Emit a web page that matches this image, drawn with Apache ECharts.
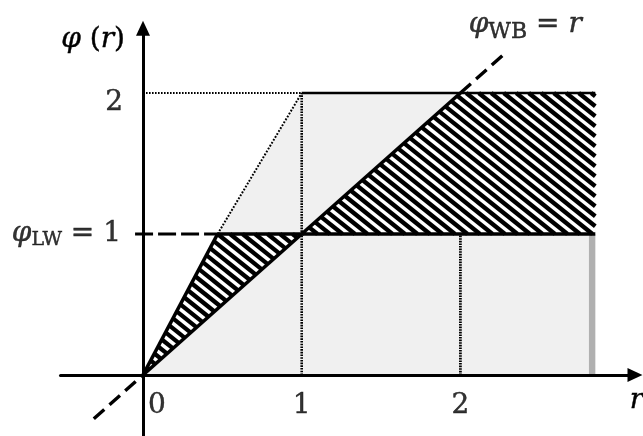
<!DOCTYPE html>
<html>
<head>
<meta charset="utf-8">
<script src="https://cdn.jsdelivr.net/npm/echarts@6/dist/echarts.min.js"></script>
<style>
  html, body { margin: 0; padding: 0; background: #fff; }
  #chart { width: 643px; height: 436px; }
</style>
</head>
<body>
<div id="chart"></div>
<script>
// ---- data (r on the horizontal axis, φ on the vertical axis) ----
const rTicks = [0, 1, 2];
const phiTicks = [1, 2];

const wbSolid    = [[0, 0], [2, 2]];            // φ_WB = r
const wbDashLow  = [[-0.31, -0.31], [0, 0]];
const wbDashHigh = [[2, 2], [2.27, 2.27]];
const steepSolid  = [[0, 0], [0.47, 1]];
const steepDotted = [[0.47, 1], [1, 2]];
const lwDashed = [[-0.05, 1], [0.47, 1]];       // φ_LW = 1
const lwSolid  = [[0.47, 1], [2.85, 1]];
const topDotted = [[0, 2], [1, 2]];
const topSolid  = [[1, 2], [2.85, 2]];
const gridR1 = [[1, 0], [1, 2]];
const gridR2 = [[2, 0], [2, 1]];

const shadedRegion = [[0, 0], [0.47, 1], [1, 2], [2.85, 2], [2.85, 0]];
const edgeBand     = [[2.81, 0], [2.85, 0], [2.85, 1], [2.81, 1]];
const hatchLeft    = [[0, 0], [0.47, 1], [1, 1]];
const hatchRight   = [[1, 1], [2, 2], [2.85, 2], [2.85, 1]];

// ---- layout ----
const UX = 158.7, UY = 141, X0 = 143, Y0 = 375;
const R_MIN = -0.52, R_MAX = 3.10, P_MIN = -0.45, P_MAX = 2.46;
const SERIF = '"DejaVu Serif", "Liberation Serif", serif';
const HATCH_DX = 12.5, HATCH_SLOPE = 0.8, HATCH_W = 4.3;

// clip the segment a-b against a convex polygon (Cyrus–Beck)
function clipToConvex(a, b, poly) {
  const cx = poly.reduce((s, p) => s + p[0], 0) / poly.length;
  const cy = poly.reduce((s, p) => s + p[1], 0) / poly.length;
  let t0 = 0, t1 = 1;
  const dx = b[0] - a[0], dy = b[1] - a[1];
  for (let i = 0; i < poly.length; i++) {
    const v = poly[i], w = poly[(i + 1) % poly.length];
    let nx = -(w[1] - v[1]), ny = w[0] - v[0];
    if (nx * (cx - v[0]) + ny * (cy - v[1]) < 0) { nx = -nx; ny = -ny; }
    const num = nx * (a[0] - v[0]) + ny * (a[1] - v[1]);
    const den = nx * dx + ny * dy;
    if (Math.abs(den) < 1e-9) { if (num < 0) return null; continue; }
    const t = -num / den;
    if (den > 0) t0 = Math.max(t0, t); else t1 = Math.min(t1, t);
    if (t0 >= t1) return null;
  }
  return [[a[0] + t0 * dx, a[1] + t0 * dy], [a[0] + t1 * dx, a[1] + t1 * dy]];
}

function polygonSeries(name, pts, fill, z) {
  return {
    name, type: 'custom', z, data: pts, encode: { x: 0, y: 1 }, silent: true,
    renderItem(params, api) {
      if (params.dataIndex !== 0) return null;
      return {
        type: 'polygon',
        shape: { points: pts.map(p => api.coord(p)) },
        style: { fill, stroke: null }
      };
    }
  };
}

// white polygon crossed by diagonal stripes running down to the right
function hatchSeries(name, pts, z) {
  return {
    name, type: 'custom', z, data: pts, encode: { x: 0, y: 1 }, silent: true,
    renderItem(params, api) {
      if (params.dataIndex !== 0) return null;
      const px = pts.map(p => api.coord(p));
      const xs = px.map(p => p[0]), ys = px.map(p => p[1]);
      const xa = Math.min(...xs) - 2, xb = Math.max(...xs) + 2;
      const ya = Math.min(...ys), yb = Math.max(...ys);
      const step = HATCH_DX * HATCH_SLOPE;
      const children = [{ type: 'polygon', shape: { points: px }, style: { fill: '#fff' } }];
      const cLo = Math.floor((ya - HATCH_SLOPE * xb) / step) - 1;
      const cHi = Math.ceil((yb - HATCH_SLOPE * xa) / step) + 1;
      for (let k = cLo; k <= cHi; k++) {
        const c = k * step;
        const seg = clipToConvex([xa, HATCH_SLOPE * xa + c], [xb, HATCH_SLOPE * xb + c], px);
        if (!seg) continue;
        children.push({
          type: 'line',
          shape: { x1: seg[0][0], y1: seg[0][1], x2: seg[1][0], y2: seg[1][1] },
          style: { stroke: '#000', lineWidth: HATCH_W, lineCap: 'butt' }
        });
      }
      return { type: 'group', children };
    }
  };
}

function lineSeries(name, pts, width, type, z) {
  return {
    name, type: 'line', z: z || 5,
    data: pts, symbol: 'none', silent: true,
    lineStyle: { color: '#000', width, type, cap: 'butt' }
  };
}

const ink = { color: '#000', textBorderColor: '#000', textBorderWidth: 0.45 };
const richText = {
  it:   Object.assign({ fontFamily: SERIF, fontStyle: 'italic', fontSize: 28 }, ink),
  rm:   Object.assign({ fontFamily: SERIF, fontSize: 28 }, ink),
  sub:  Object.assign({ fontFamily: SERIF, fontSize: 19, padding: [13, 0, 0, 0] }, ink),
  subB: Object.assign({ fontFamily: SERIF, fontSize: 22, padding: [14, 0, 0, 0] }, ink)
};

// tick labels anchored on the axes
const rLabelData = rTicks.map(v => ({
  value: [v, 0],
  label: v === 0 ? { offset: [14, 0] } : undefined
}));
const phiLabelData = phiTicks.map(v => ({
  value: [0, v],
  label: v === 2 ? { offset: [0, 10], distance: 20 } : undefined
}));

const chart = echarts.init(document.getElementById('chart'), null, { renderer: 'canvas' });
chart.setOption({
  animation: false,
  backgroundColor: '#fff',
  grid: {
    left: X0 + R_MIN * UX,
    top: Y0 - P_MAX * UY,
    width: (R_MAX - R_MIN) * UX,
    height: (P_MAX - P_MIN) * UY,
    containLabel: false,
    outerBoundsMode: 'none'
  },
  xAxis: {
    type: 'value', min: R_MIN, max: R_MAX, z: 10,
    axisLine: { onZero: true, symbol: ['none', 'triangle'], symbolSize: [14, 15],
                lineStyle: { color: '#000', width: 3 } },
    axisTick: { show: false },
    splitLine: { show: false },
    axisLabel: { show: false },
    name: '{it|r}', nameLocation: 'end', nameGap: 1.5,
    nameTextStyle: { align: 'center', verticalAlign: 'top', padding: [12, 0, 0, 0], rich: richText }
  },
  yAxis: {
    type: 'value', min: P_MIN, max: P_MAX, z: 10,
    axisLine: { onZero: true, symbol: ['none', 'triangle'], symbolSize: [14, 15],
                lineStyle: { color: '#000', width: 3 } },
    axisTick: { show: false },
    splitLine: { show: false },
    axisLabel: { show: false },
    name: '{it|φ}{rm| (}{it|r}{rm|)}', nameLocation: 'end', nameGap: 2,
    nameTextStyle: { align: 'right', verticalAlign: 'top', padding: [0, 18, 0, 0], rich: richText }
  },
  series: [
    polygonSeries('shaded', shadedRegion, '#f0f0f0', 1),
    polygonSeries('edge', edgeBand, '#b0b0b0', 1),
    hatchSeries('hatch-left', hatchLeft, 2),
    hatchSeries('hatch-right', hatchRight, 2),

    lineSeries('r = 1', gridR1, 2.6, [1.6, 1.1]),
    lineSeries('r = 2', gridR2, 2.8, [1.6, 1]),
    lineSeries('φ = 2 dotted', topDotted, 2, [1.6, 1.4]),
    lineSeries('φ = 2', topSolid, 2.6, 'solid'),
    lineSeries('steep dotted', steepDotted, 2, [1.8, 1.6]),
    lineSeries('steep', steepSolid, 3.6, 'solid'),
    lineSeries('φ_LW dashed', lwDashed, 3.2, [18, 5]),
    lineSeries('φ_LW', lwSolid, 3.6, 'solid'),
    lineSeries('φ_WB', wbSolid, 3.6, 'solid'),
    lineSeries('φ_WB low', wbDashLow, 3.4, [14, 7]),
    lineSeries('φ_WB high', wbDashHigh, 3.4, [14, 7]),
    {
      name: 'r ticks', type: 'scatter', z: 6, silent: true,
      data: rLabelData, symbolSize: 0,
      label: {
        show: true, position: 'bottom', distance: 17,
        formatter: p => '{rm|' + p.value[0] + '}', rich: richText
      }
    },
    {
      name: 'φ ticks', type: 'scatter', z: 6, silent: true,
      data: phiLabelData, symbolSize: 0,
      label: {
        show: true, position: 'left', distance: 22,
        formatter: p => (p.value[1] === 1 ? '{it|φ}{sub|LW}{rm| = 1}' : '{rm|' + p.value[1] + '}'),
        rich: richText
      }
    },
    {
      name: 'φ_WB label', type: 'scatter', z: 6, silent: true,
      data: [wbDashHigh[1]], symbolSize: 0,
      label: {
        show: true, position: 'top', distance: 12, offset: [22, 0],
        formatter: '{it|φ}{subB|WB}{rm| = }{it|r}', rich: richText
      }
    }
  ]
});
</script>
</body>
</html>
